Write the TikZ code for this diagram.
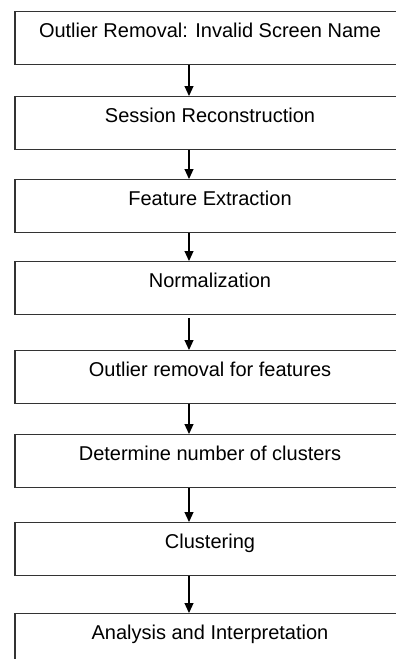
\documentclass[tikz,border=0pt]{standalone}
\usepackage{fontspec}
\setmainfont{Liberation Sans}
\usetikzlibrary{positioning, arrows.meta}

\begin{document}
\begin{tikzpicture}[x=1pt, y=-1pt, >={Triangle[width=9pt,length=10pt]},
  stage/.style={draw=black!80, line width=1.4pt, rectangle, anchor=north,
    minimum width=390pt, inner xsep=0pt, inner ysep=0pt,
    text height=26pt, text depth=27pt, font=\fontsize{20}{24}\selectfont}]
  \useasboundingbox (0,0) rectangle (396,659);
  \coordinate (axis) at (189,0);

  \node (outlier) [stage] at (210,11) {Outlier Removal: Invalid Screen Name};
  \node (session) [stage] at (210,96) {Session Reconstruction};
  \node (feature) [stage] at (210,179) {Feature Extraction};
  \node (norm) [stage] at (210,261) {Normalization};
  \node (featout) [stage] at (210,350) {Outlier removal for features};
  \node (nclust) [stage] at (210,434) {Determine number of clusters};
  \node (cluster) [stage] at (210,522) {Clustering};
  \node (analysis) [stage] at (210,613) {Analysis and Interpretation};

  \draw [->, line width=1.1pt] (outlier.south -| axis) -- (session.north -| axis);
  \draw [->, line width=1.1pt] (session.south -| axis) -- (feature.north -| axis);
  \draw [->, line width=1.1pt] (feature.south -| axis) -- (norm.north -| axis);
  \draw [->, line width=1.1pt] (norm.south -| axis) ++(0,3) -- (featout.north -| axis);
  \draw [->, line width=1.1pt] (featout.south -| axis) -- (nclust.north -| axis);
  \draw [->, line width=1.1pt] (nclust.south -| axis) -- (cluster.north -| axis);
  \draw [->, line width=1.1pt] (cluster.south -| axis) -- (analysis.north -| axis);
\end{tikzpicture}
\end{document}
